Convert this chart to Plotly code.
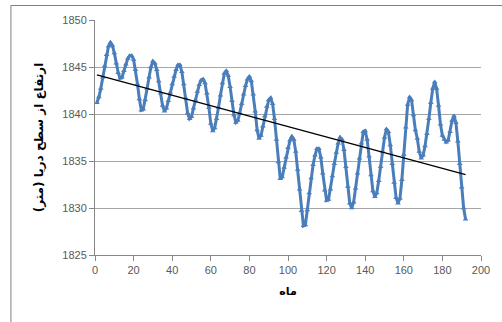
import numpy as np
import plotly.graph_objects as go

months = list(range(1, 193))
levels = [
    1841.2, 1841.8, 1842.7, 1843.9, 1845.1, 1846.3, 1847.2, 1847.6, 1847.3, 1846.5,
    1845.4, 1844.4, 1843.8, 1843.9, 1844.6, 1845.3, 1845.9, 1846.2, 1846.2, 1845.8,
    1844.7, 1843.2, 1841.6, 1840.4, 1840.5, 1841.5, 1842.7, 1843.9, 1845.0, 1845.6,
    1845.4, 1844.7, 1843.5, 1842.2, 1840.9, 1840.3, 1840.6, 1841.4, 1842.3, 1843.2,
    1844.0, 1844.7, 1845.2, 1845.2, 1844.5, 1843.2, 1841.7, 1840.1, 1839.5, 1839.7,
    1840.6, 1841.5, 1842.4, 1843.1, 1843.6, 1843.7, 1843.3, 1842.2, 1840.7, 1839.0,
    1838.2, 1838.5, 1839.5, 1840.7, 1842.0, 1843.3, 1844.3, 1844.6, 1844.1, 1842.9,
    1841.4, 1839.9, 1839.1, 1839.3, 1840.1, 1841.1, 1842.1, 1843.0, 1843.7, 1844.0,
    1843.5, 1842.1, 1840.3, 1838.3, 1837.4, 1837.7, 1838.7, 1839.8, 1840.8, 1841.5,
    1841.7, 1841.1, 1839.5, 1837.3, 1834.9, 1833.1, 1833.3, 1834.3, 1835.4, 1836.4,
    1837.2, 1837.6, 1837.3, 1836.0, 1834.1, 1832.0, 1829.7, 1828.1, 1828.2, 1829.8,
    1831.6, 1833.2, 1834.6, 1835.6, 1836.3, 1836.3, 1835.4, 1833.7, 1831.9, 1830.8,
    1830.9, 1832.0, 1833.4, 1834.7, 1835.9, 1836.9, 1837.5, 1837.3, 1836.2, 1834.4,
    1832.3, 1830.5, 1830.0, 1830.6, 1832.1, 1833.7, 1835.3, 1836.9, 1838.1, 1838.2,
    1837.3, 1835.5, 1833.5, 1831.8, 1831.2, 1831.6, 1832.9, 1834.4, 1836.0, 1837.5,
    1838.4, 1838.1, 1836.7, 1834.7, 1832.7, 1831.1, 1830.5, 1831.0, 1833.0, 1835.7,
    1838.6, 1841.0, 1841.8, 1841.5, 1839.9, 1838.3, 1837.4, 1836.0, 1835.3, 1835.6,
    1836.6, 1837.9, 1839.5, 1841.2, 1842.7, 1843.4, 1842.7, 1840.9, 1838.9, 1837.7,
    1837.3, 1837.0, 1837.2, 1838.1, 1839.3, 1839.8, 1839.1, 1837.1, 1834.7, 1832.2,
    1830.0, 1828.8,
]
x_ticks = [0, 20, 40, 60, 80, 100, 120, 140, 160, 180, 200]
y_ticks = [1825, 1830, 1835, 1840, 1845, 1850]
x_title = "ماه"
y_title = "ارتفاع از سطح دریا (متر)"

# linear trend line (least squares) computed from the data
coef = np.polyfit(months, levels, 1)
trend_x = [months[0], months[-1]]
trend_y = list(np.polyval(coef, trend_x))

fig = go.Figure()
fig.add_trace(go.Scatter(
    x=months, y=levels, mode="lines+markers",
    line=dict(color="#4A7EBB", width=3),
    marker=dict(symbol="triangle-up", size=5, color="#4A7EBB"),
    showlegend=False,
))
fig.add_trace(go.Scatter(
    x=trend_x, y=trend_y, mode="lines",
    line=dict(color="#000000", width=1.3),
    showlegend=False,
))

tick_font = dict(family="Liberation Sans, Arial, sans-serif", size=11, color="#595959")
border = dict(color="#7F7F7F", width=1)
fig.update_layout(
    width=502, height=322,
    margin=dict(l=95, r=19, t=20, b=67),
    paper_bgcolor="white", plot_bgcolor="white",
    xaxis=dict(
        range=[0, 200], tickvals=x_ticks, ticks="outside", ticklen=5,
        tickcolor="#868686", showline=True, linecolor="#868686", linewidth=1,
        showgrid=False, zeroline=False, tickfont=tick_font,
        title=dict(text="<b>" + x_title + "</b>", font=dict(family="DejaVu Sans", size=11, color="#000000"), standoff=12),
    ),
    yaxis=dict(
        range=[1825, 1850], tickvals=y_ticks, ticks="outside", ticklen=5,
        tickcolor="#868686", showline=True, linecolor="#868686", linewidth=1,
        showgrid=True, gridcolor="#A6A6A6", gridwidth=1.3, zeroline=False,
        tickfont=tick_font,
        title=dict(text="<b>" + y_title + "</b>", font=dict(family="DejaVu Sans", size=12, color="#000000"), standoff=16),
    ),
    shapes=[
        dict(type="line", xref="paper", yref="paper", x0=-0.2178, x1=-0.2178, y0=-0.35, y1=1.062, line=border),
        dict(type="line", xref="paper", yref="paper", x0=-0.2178, x1=1.08, y0=1.0617, y1=1.0617, line=border),
    ],
)

fig.write_html("out.html", config={"displayModeBar": False},
               post_script="document.body.style.margin='0';")
